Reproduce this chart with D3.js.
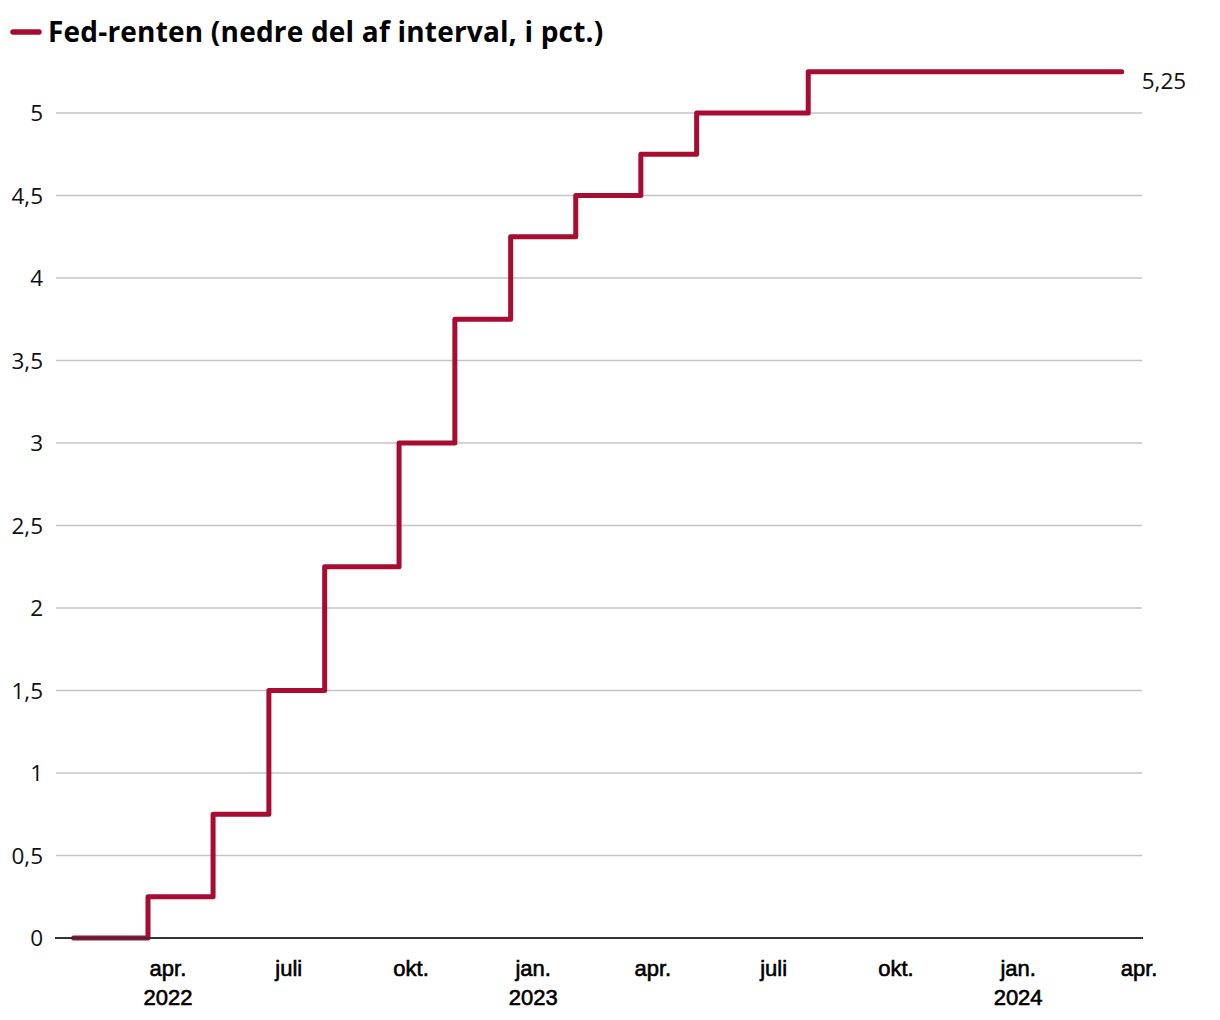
<!DOCTYPE html>
<html><head><meta charset="utf-8">
<script src="https://cdn.jsdelivr.net/npm/d3@7"></script>
<style>body{margin:0;background:#fff}svg{display:block}</style>
</head><body>
<svg id="c" width="1220" height="1020"></svg>
<script>
const seriesName = "Fed-renten (nedre del af interval, i pct.)";
const changeDates = ["2022-01-20","2022-03-17","2022-05-05","2022-06-16","2022-07-28","2022-09-22","2022-11-03","2022-12-15","2023-02-02","2023-03-23","2023-05-04","2023-07-27","2024-03-19"];
const rateValues = [0,0.25,0.75,1.5,2.25,3,3.75,4.25,4.5,4.75,5,5.25,5.25];
const yTicks = [0,0.5,1,1.5,2,2.5,3,3.5,4,4.5,5];
const xTickDates = ["2022-04-01","2022-07-01","2022-10-01","2023-01-01","2023-04-01","2023-07-01","2023-10-01","2024-01-01","2024-04-01"];
const xTickMonths = ["apr.","juli","okt.","jan.","apr.","juli","okt.","jan.","apr."];
const xTickYears = ["2022","","","2023","","","","2024",""];
const endLabel = "5,25";

const parse = d3.utcParse("%Y-%m-%d");
const data = changeDates.map((d,i)=>({date:parse(d), v:rateValues[i]}));
const svg = d3.select("#c");
const x = d3.scaleUtc().domain([parse("2022-01-06"), parse("2024-04-04")]).range([55,1143]);
const y = d3.scaleLinear().domain([0,5]).range([938,113]);
const red = "#a80c30";

// grid
svg.append("g").selectAll("line").data(yTicks.filter(t=>t>0)).join("line")
  .attr("x1",56).attr("x2",1142).attr("y1",d=>y(d)).attr("y2",d=>y(d))
  .attr("stroke","#c4c4c4").attr("stroke-width",1.5);

// y labels
svg.append("g").selectAll("text").data(yTicks).join("text")
  .attr("x",43).attr("y",d=>y(d)).attr("dy","0.36em").attr("text-anchor","end")
  .attr("font-family","Open Sans").attr("font-size",22.5).attr("fill","#111")
  .text(d=>d3.format(".1~f")(d).replace(".",","));

// x axis labels
const xt = svg.append("g");
xTickDates.forEach((d,i)=>{
  const px = x(parse(d));
  xt.append("text").attr("x",px).attr("y",976).attr("text-anchor","middle")
    .attr("font-family","Liberation Sans").attr("font-size",22).attr("fill","#000")
    .attr("stroke","#000").attr("stroke-width",0.6)
    .text(xTickMonths[i]);
  if(xTickYears[i]) xt.append("text").attr("x",px).attr("y",1005).attr("text-anchor","middle")
    .attr("font-family","Liberation Sans").attr("font-size",22).attr("fill","#000")
    .attr("stroke","#000").attr("stroke-width",0.6)
    .text(xTickYears[i]);
});

// line
const line = d3.line().x(d=>x(d.date)).y(d=>y(d.v)).curve(d3.curveStepAfter);
svg.append("path").datum(data).attr("d",line).attr("fill","none")
  .attr("stroke",red).attr("stroke-width",5).attr("stroke-linejoin","round").attr("stroke-linecap","round");

// baseline
svg.append("line").attr("x1",55).attr("x2",1143).attr("y1",y(0)).attr("y2",y(0))
  .attr("stroke","#333").attr("stroke-width",2);

// end label
const last = data[data.length-1];
svg.append("text").attr("x",x(last.date)+20).attr("y",y(last.v)+9).attr("dy","0.36em")
  .attr("font-family","Open Sans").attr("font-size",22.5).attr("fill","#111").text(endLabel);

// legend
svg.append("line").attr("x1",13).attr("x2",39).attr("y1",32).attr("y2",32)
  .attr("stroke",red).attr("stroke-width",5.5).attr("stroke-linecap","round");
svg.append("text").attr("x",48).attr("y",32).attr("dy","0.36em")
  .attr("font-family","Open Sans").attr("font-weight",700).attr("font-size",28).attr("fill","#000")
  .attr("letter-spacing",0.2)
  .text(seriesName);
</script>
</body></html>
